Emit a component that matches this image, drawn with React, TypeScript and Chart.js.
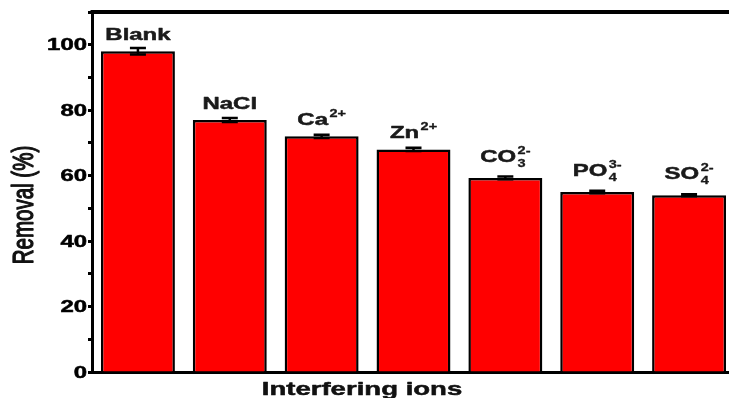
import React, { useEffect, useRef } from "react";
import { Chart, registerables } from "chart.js";

Chart.register(...registerables);

const categories = ["Blank", "NaCl", "Ca", "Zn", "CO", "PO", "SO"];
const labelSub = ["", "", "", "", "3", "4", "4"];
const labelSup = ["", "", "2+", "2+", "2-", "3-", "2-"];
const removal = [98, 77, 72, 68, 59.3, 55, 54];
const errors = [1.0, 0.6, 0.5, 0.5, 0.4, 0.4, 0.3];
const yTickLabels = [0, 20, 40, 60, 80, 100];

const SX = 1.45;
const FONT = '"Liberation Sans", Arial, sans-serif';

function heavyText(ctx: CanvasRenderingContext2D, text: string, x: number, y: number, w: number) {
  ctx.fillText(text, x, y);
  if (w > 0) {
    ctx.lineWidth = w;
    ctx.strokeStyle = ctx.fillStyle as string;
    ctx.lineJoin = "round";
    ctx.strokeText(text, x, y);
  }
}

const customPlugin = {
  id: "customDraw",
  afterDraw(chart: any) {
    const { ctx, chartArea } = chart;
    const x = chart.scales.x;
    const y = chart.scales.y;
    ctx.save();
    // top frame line
    ctx.strokeStyle = "#000";
    ctx.lineWidth = 4;
    ctx.beginPath();
    ctx.moveTo(chartArea.left - 1.5, chartArea.top);
    ctx.lineTo(chart.width, chartArea.top);
    ctx.stroke();

    // error bars
    ctx.lineWidth = 2.5;
    removal.forEach((v, i) => {
      const xc = x.getPixelForValue(i);
      const yt = y.getPixelForValue(v + errors[i]);
      const yb = y.getPixelForValue(v - errors[i]);
      ctx.beginPath();
      ctx.moveTo(xc, yt);
      ctx.lineTo(xc, yb);
      ctx.moveTo(xc - 8, yt);
      ctx.lineTo(xc + 8, yt);
      ctx.moveTo(xc - 8, yb);
      ctx.lineTo(xc + 8, yb);
      ctx.stroke();
    });

    // labels above bars
    const mainFont = `bold 16.5px ${FONT}`;
    const smallFont = `bold 10px ${FONT}`;
    ctx.fillStyle = "#1a1a1a";
    ctx.textBaseline = "alphabetic";
    ctx.textAlign = "left";
    categories.forEach((name, i) => {
      const xc = x.getPixelForValue(i);
      const sub = labelSub[i];
      const sup = labelSup[i];
      ctx.font = mainFont;
      const wm = ctx.measureText(name).width;
      ctx.font = smallFont;
      const ws = Math.max(ctx.measureText(sub).width, ctx.measureText(sup).width);
      const extra = ws > 0 ? ws + 1 : 0;
      const total = (wm + extra) * SX;
      const startX = xc - total / 2;
      const baseY = y.getPixelForValue(removal[i]) - (sub ? 16 : 11);
      ctx.save();
      ctx.translate(startX, baseY);
      ctx.scale(SX, 1);
      ctx.font = mainFont;
      heavyText(ctx, name, 0, 0, 0.5);
      ctx.font = smallFont;
      if (sup) heavyText(ctx, sup, wm + 1, -8, 0.3);
      if (sub) heavyText(ctx, sub, wm + 1, 5, 0.3);
      ctx.restore();
    });

    // y tick labels
    ctx.fillStyle = "#000";
    ctx.font = `bold 16.5px ${FONT}`;
    ctx.textAlign = "right";
    ctx.textBaseline = "middle";
    yTickLabels.forEach((t) => {
      const py = y.getPixelForValue(t);
      ctx.save();
      ctx.translate(chartArea.left - 5, py + 1);
      ctx.scale(SX, 1);
      heavyText(ctx, String(t), 0, 0, 0.5);
      ctx.restore();
    });

    // y title
    ctx.save();
    ctx.font = `20.5px ${FONT}`;
    ctx.textAlign = "center";
    ctx.textBaseline = "middle";
    ctx.fillStyle = "#111";
    ctx.translate(25, (chartArea.top + chartArea.bottom) / 2 + 13);
    ctx.scale(SX, 1);
    ctx.rotate(-Math.PI / 2);
    heavyText(ctx, "Removal (%)", 0, 0, 0.9);
    ctx.restore();

    // x title
    ctx.save();
    ctx.font = `bold 19px ${FONT}`;
    ctx.textAlign = "center";
    ctx.textBaseline = "alphabetic";
    ctx.fillStyle = "#111";
    ctx.translate(chartArea.left + 270, chartArea.bottom + 23);
    ctx.scale(SX, 1);
    heavyText(ctx, "Interfering ions", 0, 0, 0.5);
    ctx.restore();

    ctx.restore();
  },
};

export default function App() {
  const ref = useRef<HTMLCanvasElement>(null);
  useEffect(() => {
    const chart = new Chart(ref.current as HTMLCanvasElement, {
      type: "bar",
      data: {
        labels: categories,
        datasets: [
          {
            data: removal,
            backgroundColor: "#ff0000",
            borderColor: "#000",
            borderWidth: 2.5,
            categoryPercentage: 1,
            barPercentage: 0.805,
          },
        ],
      },
      options: {
        responsive: false,
        devicePixelRatio: 1,
        animation: false,
        layout: { padding: { top: 12, right: 5, left: 0, bottom: 0 } },
        plugins: { legend: { display: false }, tooltip: { enabled: false } },
        scales: {
          x: {
            grid: { display: false, drawTicks: false },
            ticks: { display: false },
            border: { display: true, color: "#000", width: 3 },
            afterFit: (s: any) => {
              s.height = 26;
            },
          },
          y: {
            min: 0,
            max: 110,
            ticks: { stepSize: 10, display: false },
            grid: {
              drawOnChartArea: false,
              drawTicks: true,
              tickLength: 4,
              tickWidth: 3,
              tickColor: "#000",
              color: "#000",
            },
            border: { display: true, color: "#000", width: 3 },
            afterFit: (s: any) => {
              s.width = 92;
            },
          },
        },
      } as any,
      plugins: [customPlugin],
    });
    return () => chart.destroy();
  }, []);
  return (
    <div
      style={{
        position: "fixed",
        left: 0,
        top: 0,
        width: 729,
        height: 398,
        overflow: "hidden",
        background: "#fff",
      }}
    >
      <canvas
        ref={ref}
        width={740}
        height={398}
        style={{ display: "block", width: 740, height: 398 }}
      />
    </div>
  );
}
